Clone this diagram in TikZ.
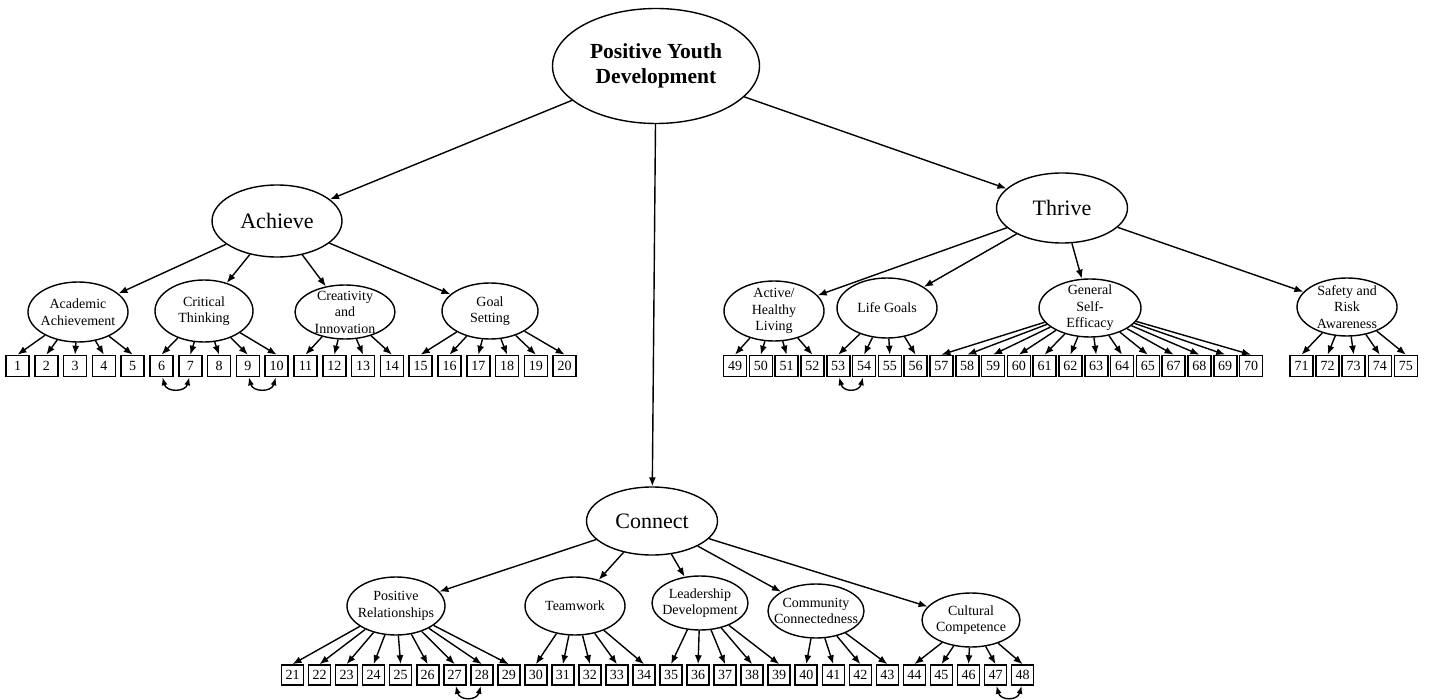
\documentclass[tikz,border=0pt]{standalone}
\usepackage{fontspec}
\setmainfont{Liberation Serif}
\usetikzlibrary{shapes.geometric,arrows.meta}
\begin{document}
\begin{tikzpicture}[x=1pt,y=-1pt,
  lat/.style={draw,ellipse,line width=1.4pt,inner sep=0pt},
  txt/.style={inner sep=0pt,align=center,font=\fontsize{14}{16.5}\selectfont},
  big/.style={draw,ellipse,line width=1.4pt,inner sep=0pt,align=center,font=\fontsize{22}{25}\selectfont},
  itemA/.style={draw,rectangle,line width=1.6pt,minimum width=23pt,minimum height=21pt,inner sep=0pt,font=\fontsize{14}{14}\selectfont},
  itemC/.style={itemA,minimum width=22pt,minimum height=20pt},
  arr/.style={-{Latex[length=9pt,width=7pt]},line width=1.4pt},
  cov/.style={{Latex[length=8pt,width=6pt]}-{Latex[length=8pt,width=6pt]},line width=1.4pt}]
\fill[white] (0,0) rectangle (1429,700);
\useasboundingbox (0,0) rectangle (1429,700);

% top levels
\node[big,minimum width=207pt,minimum height=115pt,font=\fontsize{21.5}{25}\selectfont\bfseries] (PYD) at (656,66) {Positive Youth\\Development};
\node[big,minimum width=130pt,minimum height=72pt] (ACH) at (277,221) {Achieve};
\node[big,minimum width=131pt,minimum height=70pt] (THR) at (1062,208) {Thrive};
\node[big,minimum width=131pt,minimum height=68pt] (CON) at (652,521) {Connect};

\draw[arr] (PYD) -- (ACH);
\draw[arr] (PYD) -- (THR);
\draw[arr] (PYD) -- (CON);

% factors (ellipse + text)
\node[lat,minimum width=100pt,minimum height=60pt] (AA) at (78,312) {};
\node[txt] (tAA) at (AA.center) {Academic\\Achievement};
\node[lat,minimum width=98pt,minimum height=62pt] (CT) at (204,311) {};
\node[txt] (tCT) at (CT.center) {Critical\\Thinking};
\node[lat,minimum width=100pt,minimum height=54pt] (CI) at (345,312) {};
\node[txt] (tCI) at (CI.center) {Creativity\\and\\Innovation};
\node[lat,minimum width=96pt,minimum height=56pt] (GS) at (490,311) {};
\node[txt] (tGS) at (GS.center) {Goal\\Setting};
\node[lat,minimum width=100pt,minimum height=60pt] (AH) at (774,311) {};
\node[txt] (tAH) at (AH.center) {Active/\\Healthy\\Living};
\node[lat,minimum width=100pt,minimum height=60pt] (LG) at (887,308) {};
\node[txt] (tLG) at (LG.center) {Life Goals};
\node[lat,minimum width=102pt,minimum height=58pt] (GSE) at (1090,308) {};
\node[txt] (tGSE) at (GSE.center) {General\\Self-\\Efficacy};
\node[lat,minimum width=100pt,minimum height=58pt] (SR) at (1347,307) {};
\node[txt] (tSR) at (SR.center) {Safety and\\Risk\\Awareness};
\node[lat,minimum width=98pt,minimum height=58pt] (PR) at (396,606) {};
\node[txt] (tPR) at (PR.center) {Positive\\Relationships};
\node[lat,minimum width=100pt,minimum height=58pt] (TW) at (575,606) {};
\node[txt] (tTW) at (TW.center) {Teamwork};
\node[lat,minimum width=96pt,minimum height=54pt] (LD) at (700,603) {};
\node[txt] (tLD) at (LD.center) {Leadership\\Development};
\node[lat,minimum width=96pt,minimum height=54pt] (CC) at (816,611) {};
\node[txt] (tCC) at (CC.center) {Community\\Connectedness};
\node[lat,minimum width=98pt,minimum height=54pt] (CU) at (971,620) {};
\node[txt] (tCU) at (CU.center) {Cultural\\Competence};

\foreach \f in {AA,CT,CI,GS} \draw[arr] (ACH) -- (\f);
\foreach \f in {AH,LG,GSE,SR} \draw[arr] (THR) -- (\f);
\foreach \f in {PR,TW,LD,CC,CU} \draw[arr] (CON) -- (\f);

% items
\foreach \i in {1,...,20} \node[itemA] (b\i) at ({17.5+(\i-1)*28.8},366) {\i};
\foreach \i [count=\k from 0] in {49,50,51,52,53,54,55,56,57,58,59,60,61,62,63,64,65,67,68,69,70}
  \node[itemA] (b\i) at ({735+\k*25.8},366) {\i};
\foreach \i in {71,...,75} \node[itemA] (b\i) at ({1301.5+(\i-71)*26.1},366) {\i};
\foreach \i in {21,...,48} \node[itemC] (b\i) at ({292.5+(\i-21)*27.04},675) {\i};

% loadings
\foreach \i in {1,...,5} \draw[arr] (AA) -- (b\i.north);
\foreach \i in {6,...,10} \draw[arr] (CT) -- (b\i.north);
\foreach \i in {11,...,14} \draw[arr] (CI) -- (b\i.north);
\foreach \i in {15,...,20} \draw[arr] (GS) -- (b\i.north);
\foreach \i in {49,...,52} \draw[arr] (AH) -- (b\i.north);
\foreach \i in {53,...,56} \draw[arr] (LG) -- (b\i.north);
\foreach \i in {57,58,59,60,61,62,63,64,65,67,68,69,70} \draw[arr] (GSE) -- (b\i.north);
\foreach \i in {71,...,75} \draw[arr] (SR) -- (b\i.north);
\foreach \i in {21,...,29} \draw[arr] (PR) -- (b\i.north);
\foreach \i in {30,...,34} \draw[arr] (TW) -- (b\i.north);
\foreach \i in {35,...,39} \draw[arr] (LD) -- (b\i.north);
\foreach \i in {40,...,43} \draw[arr] (CC) -- (b\i.north);
\foreach \i in {44,...,48} \draw[arr] (CU) -- (b\i.north);

% covariances
\foreach \a/\b in {6/7,9/10,53/54,27/28,47/48}
  \draw[cov] ([xshift=1pt]b\a.south) .. controls +(4,15) and +(-4,15) .. ([xshift=-1pt]b\b.south);
\end{tikzpicture}
\end{document}
